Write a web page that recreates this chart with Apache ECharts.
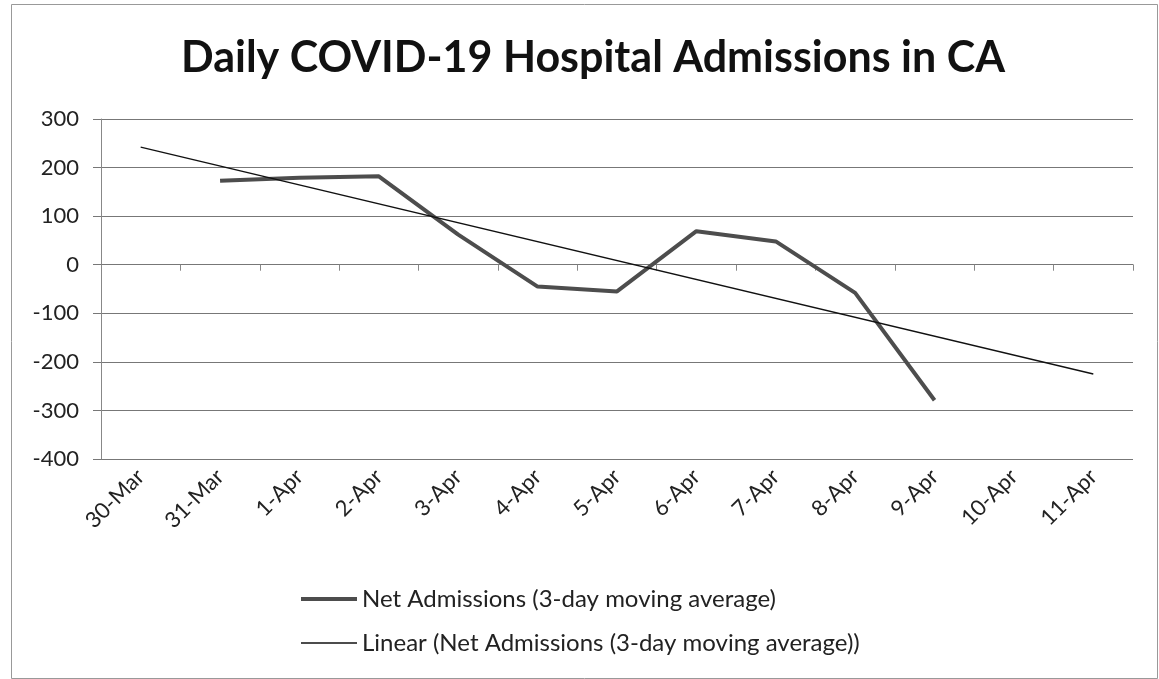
<!DOCTYPE html>
<html>
<head>
<meta charset="utf-8">
<script src="https://cdn.jsdelivr.net/npm/echarts@6/dist/echarts.min.js"></script>
<style>
  html, body { margin: 0; padding: 0; background: #fff; }
  #chart { width: 1159px; height: 679px; }
</style>
</head>
<body>
<div id="chart"></div>
<script>
// categories (dates)
const days = ["30-Mar", "31-Mar", "1-Apr", "2-Apr", "3-Apr", "4-Apr", "5-Apr",
  "6-Apr", "7-Apr", "8-Apr", "9-Apr", "10-Apr", "11-Apr"];
// net admissions, 3-day moving average
const netAdmissions = [null, 173, 179, 182, 62, -45, -55, 69, 48, -58, -279, null, null];
// trend line end points (30-Mar and 11-Apr)
const trendLine = [242, null, null, null, null, null, null, null, null, null, null, null, -225];

const font = "Lato";
const chart = echarts.init(document.getElementById("chart"));

const option = {
  animation: false,
  backgroundColor: "#fff",
  title: {
    text: "Daily COVID-19 Hospital Admissions in CA",
    left: 176,
    top: 32,
    textStyle: { fontFamily: font, fontWeight: "bold", fontSize: 43, color: "#111" },
  },
  grid: { left: 101, right: 26, top: 119, bottom: 220 },
  legend: {
    orient: "vertical",
    left: 294,
    top: 582,
    itemWidth: 56,
    itemHeight: 14,
    itemGap: 20,
    itemStyle: { opacity: 0 },
    textStyle: { fontFamily: font, fontSize: 24, color: "#222" },
    data: [
      { name: "Net Admissions (3-day moving average)", lineStyle: { width: 4, color: "#4d4d4d" } },
      { name: "Linear (Net Admissions (3-day moving average))", lineStyle: { width: 1.3, color: "#111" } },
    ],
  },
  xAxis: [
    {
      type: "category",
      data: days,
      position: "bottom",
      axisLine: { show: false, onZero: false },
      axisTick: { show: false },
      axisLabel: {
        rotate: 45,
        margin: 14,
        interval: 0,
        fontFamily: font,
        fontSize: 22,
        color: "#222",
      },
    },
    {
      // axis line drawn through zero with ticks between the days
      type: "category",
      data: days,
      position: "top",
      axisLine: { show: true, onZero: true, lineStyle: { color: "#777", width: 1 } },
      axisTick: { show: true, inside: true, length: 6, lineStyle: { color: "#888" } },
      axisLabel: { show: false },
    },
  ],
  yAxis: {
    type: "value",
    min: -400,
    max: 300,
    interval: 100,
    axisLine: { show: true, lineStyle: { color: "#888" } },
    axisTick: { show: true, length: 8, lineStyle: { color: "#777" } },
    axisLabel: { margin: 22, fontFamily: font, fontSize: 22, color: "#222" },
    splitLine: { show: true, lineStyle: { color: "#777", width: 1 } },
  },
  series: [
    {
      name: "Net Admissions (3-day moving average)",
      type: "line",
      data: netAdmissions,
      symbol: "none",
      lineStyle: { color: "#4d4d4d", width: 4 },
      itemStyle: { color: "#4d4d4d" },
    },
    {
      name: "Linear (Net Admissions (3-day moving average))",
      type: "line",
      data: trendLine,
      connectNulls: true,
      symbol: "none",
      lineStyle: { color: "#111", width: 1.3 },
      itemStyle: { color: "#111" },
    },
  ],
  graphic: [
    {
      type: "rect",
      left: 9,
      top: 2,
      shape: { width: 1146, height: 674 },
      style: { fill: "none", stroke: "#999", lineWidth: 1 },
      silent: true,
    },
  ],
};

chart.setOption(option);
window.addEventListener("resize", () => chart.resize());
</script>
</body>
</html>
